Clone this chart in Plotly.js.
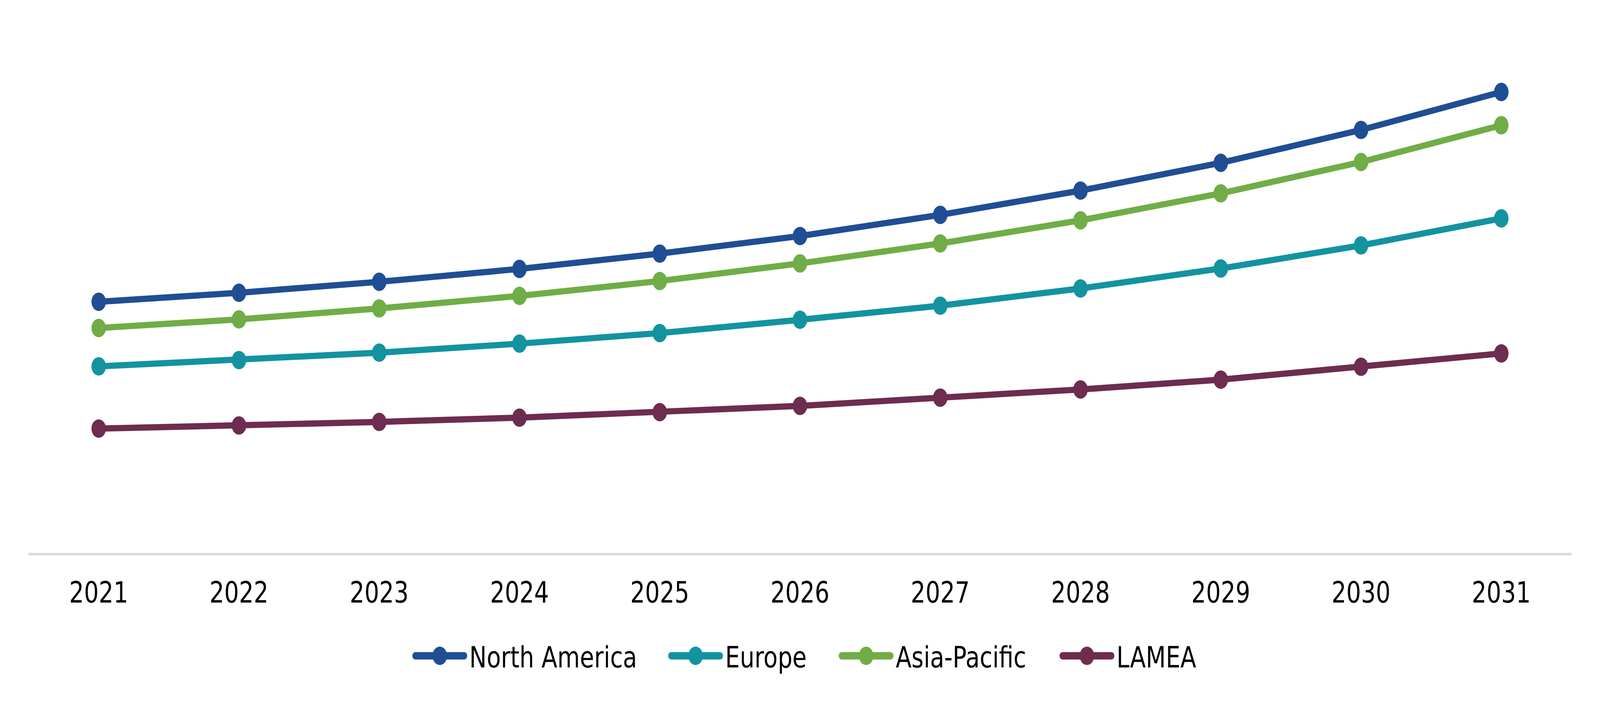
<!DOCTYPE html>
<html>
<head>
<meta charset="utf-8">
<script src="https://cdn.plot.ly/plotly-3.0.1.min.js"></script>
<style>
  html, body { margin: 0; padding: 0; background: #ffffff; overflow: hidden; }
  #chart { width: 1568px; height: 541.5px; transform-origin: 0 0; position: absolute; left: 0; top: 0; }
  #chart .legendlines path { stroke-linecap: round; stroke-width: 5.7px !important; }
</style>
</head>
<body>
<div id="chart"></div>
<script>
// Categories (years)
const years = ["2021","2022","2023","2024","2025","2026","2027","2028","2029","2030","2031"];

// Series values (relative units)
const northAmerica = [642, 665, 693, 726, 765, 810, 864, 926, 997, 1081, 1178];
const europe       = [477, 493, 512, 535, 562, 596, 632, 676, 727, 786, 855];
const asiaPacific  = [575, 597, 625, 657, 695, 740, 791, 850, 919, 999, 1093];
const lamea        = [318, 326, 335, 346, 360, 376, 397, 418, 443, 476, 510];

const seriesNames = ["North America", "Europe", "Asia-Pacific", "LAMEA"];
const seriesColors = ["#1f4e94", "#1393a0", "#70ad47", "#6d2c50"];
const seriesValues = [northAmerica, europe, asiaPacific, lamea];

// Base design size; stretched to fill the actual viewport
const BASE_W = 1568, BASE_H = 541.5;
const vw = window.innerWidth || 5209;
const vh = window.innerHeight || 1799;
document.getElementById('chart').style.transform = 'scale(' + (vw / BASE_W) + ',' + (vh / BASE_H) + ')';

const legendIds = ['legend', 'legend2', 'legend3', 'legend4'];
const legendLeft = [402, 652.7, 819.8, 1036.2];

const traces = seriesValues.map((vals, i) => ({
  type: 'scatter',
  mode: 'lines+markers',
  name: seriesNames[i],
  legend: legendIds[i],
  x: years,
  y: vals,
  line: { color: seriesColors[i], width: 4.8 },
  marker: { color: seriesColors[i], size: 14.2 },
  hoverinfo: 'skip'
}));

const FONT = 'DejaVu Sans, Verdana, sans-serif';

const layout = {
  width: BASE_W,
  height: BASE_H,
  margin: { l: 28, r: 28, t: 0, b: 116, pad: 0 },
  paper_bgcolor: '#ffffff',
  plot_bgcolor: '#ffffff',
  font: { family: FONT, size: 22.7, color: '#000000' },
  showlegend: true,
  xaxis: {
    type: 'category',
    range: [-0.5, 10.5],
    showgrid: false,
    zeroline: false,
    showline: true,
    linecolor: '#d9d9d9',
    linewidth: 1.8,
    ticks: '',
    ticklabelstandoff: 9,
    tickfont: { family: FONT, size: 22.7, color: '#000000' },
    fixedrange: true
  },
  yaxis: {
    range: [0, 1413],
    visible: false,
    fixedrange: true
  }
};

legendIds.forEach((id, i) => {
  layout[id] = {
    orientation: 'h',
    xref: 'container', yref: 'container',
    x: legendLeft[i] / BASE_W, xanchor: 'left',
    y: 1 - 505.4 / BASE_H, yanchor: 'middle',
    itemwidth: 48,
    borderwidth: 0,
    bgcolor: 'rgba(0,0,0,0)',
    font: { family: FONT, size: 22.7, color: '#000000' }
  };
});

Plotly.newPlot('chart', traces, layout, { staticPlot: true, displayModeBar: false });
</script>
</body>
</html>
